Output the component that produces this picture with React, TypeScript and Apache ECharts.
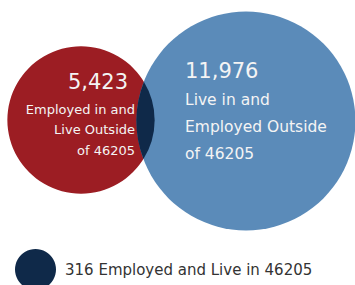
import React, { useEffect, useRef } from "react";
import * as echarts from "echarts";

// ---- data ----
const categories = [
  "Employed in and Live Outside of 46205",
  "Live in and Employed Outside of 46205",
  "Employed and Live in 46205",
];
const values = [5423, 11976, 316];
const labelLines = [
  ["Employed in and", "Live Outside", "of 46205"],
  ["Live in and", "Employed Outside", "of 46205"],
];

// ---- layout / style (not data) ----
const W = 355;
const H = 285;
const SCALE = 1.0; // px radius per sqrt(value)
const centers = [
  [81, 120],
  [246, 121],
];
const colors = ["#9c1d23", "#5b8bb9", "#0f2949"];
const FONT = "'DejaVu Sans', sans-serif";
const TEXT = "#f4f4f4";

const fmt = (v: number) => v.toLocaleString("en-US");

export default function App() {
  const ref = useRef<HTMLDivElement>(null);
  useEffect(() => {
    if (!ref.current) return;
    const chart = echarts.init(ref.current, undefined, { renderer: "svg" });

    const circleData = [0, 1].map((i) => ({
      name: categories[i],
      value: [centers[i][0], centers[i][1], values[i]],
    }));

    const option: any = {
      animation: false,
      grid: { left: 0, right: 0, top: 0, bottom: 0 },
      xAxis: { type: "value", min: 0, max: W, show: false },
      yAxis: { type: "value", min: 0, max: H, inverse: true, show: false },
      legend: {
        data: [categories[2]],
        left: 15,
        top: 249,
        padding: 0,
        icon: "circle",
        itemWidth: 41,
        itemHeight: 41,
        selectedMode: false,
        formatter: (name: string) => `${values[2]} ${name}`,
        textStyle: {
          fontSize: 15,
          color: "#333333",
          fontFamily: FONT,
          padding: [0, 0, 0, 4],
        },
      },
      series: [
        {
          type: "custom",
          name: "sets",
          coordinateSystem: "cartesian2d",
          data: circleData,
          z: 1,
          renderItem: (params: any, api: any) => {
            const i = params.dataIndex;
            const c = api.coord([api.value(0), api.value(1)]);
            const v = api.value(2);
            const r = Math.sqrt(v) * SCALE;
            const children: any[] = [
              {
                type: "circle",
                shape: { cx: c[0], cy: c[1], r },
                style: { fill: colors[i] },
              },
            ];
            if (i === 0) {
              children.push({
                type: "text",
                style: {
                  text: fmt(v),
                  x: c[0] + 47,
                  y: c[1] - 38,
                  align: "right",
                  verticalAlign: "middle",
                  fill: TEXT,
                  fontSize: 21,
                  fontFamily: FONT,
                },
              });
              const dys = [-11, 9.5, 30];
              labelLines[0].forEach((t, k) =>
                children.push({
                  type: "text",
                  style: {
                    text: t,
                    x: c[0] + 54,
                    y: c[1] + dys[k],
                    align: "right",
                    verticalAlign: "middle",
                    fill: TEXT,
                    fontSize: 13,
                    fontFamily: FONT,
                  },
                })
              );
            } else {
              children.push({
                type: "text",
                style: {
                  text: fmt(v),
                  x: c[0] - 61,
                  y: c[1] - 50,
                  align: "left",
                  verticalAlign: "middle",
                  fill: TEXT,
                  fontSize: 21,
                  fontFamily: FONT,
                },
              });
              const dys = [-21, 6, 33];
              labelLines[1].forEach((t, k) =>
                children.push({
                  type: "text",
                  style: {
                    text: t,
                    x: c[0] - 61,
                    y: c[1] + dys[k],
                    align: "left",
                    verticalAlign: "middle",
                    fill: TEXT,
                    fontSize: 15.5,
                    fontFamily: FONT,
                  },
                })
              );
            }
            return { type: "group", children };
          },
        },
        {
          type: "custom",
          name: categories[2],
          coordinateSystem: "cartesian2d",
          itemStyle: { color: colors[2] },
          data: [{ name: categories[2], value: [values[2]] }],
          z: 2,
          renderItem: (params: any, api: any) => {
            const p1 = api.coord(centers[0]);
            const p2 = api.coord(centers[1]);
            const r1 = Math.sqrt(values[0]) * SCALE;
            const r2 = Math.sqrt(values[1]) * SCALE;
            const dx = p2[0] - p1[0];
            const dy = p2[1] - p1[1];
            const d = Math.hypot(dx, dy);
            const a = (d * d + r1 * r1 - r2 * r2) / (2 * d);
            const h = Math.sqrt(Math.max(0, r1 * r1 - a * a));
            const ux = dx / d;
            const uy = dy / d;
            const mx = p1[0] + a * ux;
            const my = p1[1] + a * uy;
            const top = [mx + h * uy, my - h * ux];
            const bot = [mx - h * uy, my + h * ux];
            const pathData =
              `M ${top[0]} ${top[1]} ` +
              `A ${r1} ${r1} 0 0 1 ${bot[0]} ${bot[1]} ` +
              `A ${r2} ${r2} 0 0 1 ${top[0]} ${top[1]} Z`;
            return {
              type: "path",
              shape: { pathData },
              style: { fill: colors[2] },
            };
          },
        },
      ],
    };
    chart.setOption(option);
    return () => chart.dispose();
  }, []);

  return (
    <div
      ref={ref}
      style={{ position: "absolute", left: 0, top: 0, width: W, height: H }}
    />
  );
}
